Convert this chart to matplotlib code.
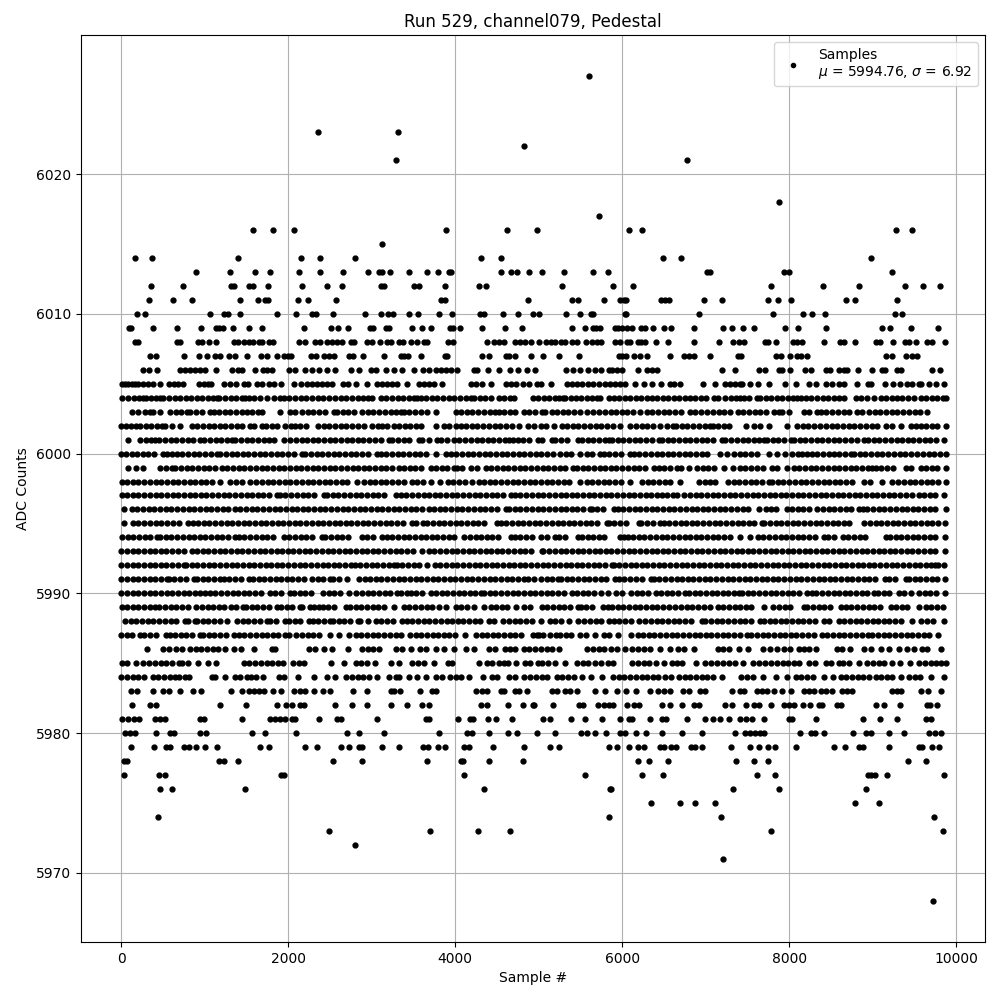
import matplotlib
matplotlib.use("Agg")
import matplotlib.pyplot as plt

title = "Run 529, channel079, Pedestal"
legend_label = "Samples\n$\\mu$ = 5994.76, $\\sigma$ = 6.92"

s6027 = [5607]
s6023 = [2353, 3313]
s6022 = [4825]
s6021 = [3289, 6771]
s6018 = [7881]
s6017 = [5725]
s6016 = [1573, 1813, 2065, 3889, 4621, 4975, 6075, 6231, 9279, 9471]
s6015 = [3121]
s6014 = [169, 373, 1393, 2149, 2377, 2797, 4309, 4549, 6483, 6699, 8979]
s6013 = [889, 1297, 1597, 1777, 2125, 2377, 2653, 2953, 3085, 3125, 3217, 3445, 3661, 3793, 3925, 3953, 4549, 4669, 4741, 4885, 5043, 5307, 5655, 5823, 7015, 7047, 7935, 7995, 9231]
s6012 = [361, 733, 1313, 1353, 1525, 1577, 1753, 2161, 2461, 2641, 3105, 3145, 3505, 3565, 3877, 4285, 4373, 5283, 5883, 6123, 7779, 8403, 8835, 9387, 9603, 9807]
s6011 = [337, 613, 841, 1417, 1633, 1725, 1757, 2113, 2233, 2569, 3825, 3877, 4873, 5403, 5475, 5775, 5975, 6015, 6047, 6459, 6515, 6555, 6975, 7191, 7743, 7863, 8019, 8679, 8787, 9291]
s6010 = [193, 289, 1057, 1233, 1273, 1417, 1865, 2089, 2281, 2337, 2533, 2917, 3109, 3193, 3253, 3445, 3553, 3805, 3961, 4297, 4345, 4573, 4753, 4935, 5007, 5331, 5499, 5623, 5647, 6027, 6047, 6915, 7803, 8163, 8271, 8427, 9267, 9351]
s6009 = [93, 117, 385, 661, 949, 1137, 1165, 1217, 1333, 1529, 1681, 2185, 2509, 2593, 2713, 2977, 3009, 3169, 3209, 3477, 3601, 3709, 3937, 3969, 4057, 4321, 4597, 4801, 5403, 5559, 5655, 5687, 5727, 5907, 5943, 5995, 6055, 6115, 6227, 6267, 6363, 6495, 6579, 6855, 7203, 7311, 7443, 7575, 7947, 8103, 8439, 9111, 9207, 9459, 9783]
s6008 = [165, 205, 665, 705, 913, 965, 1045, 1137, 1353, 1401, 1465, 1525, 1577, 1645, 1685, 1765, 1813, 2125, 2201, 2325, 2385, 2465, 2525, 2585, 2641, 2745, 2785, 2945, 3005, 3097, 3185, 3225, 3325, 3377, 3465, 3545, 3625, 3665, 3913, 3977, 4385, 4465, 4525, 4585, 4717, 4777, 4829, 4907, 5007, 5087, 5143, 5199, 5263, 5311, 5403, 5455, 5571, 5635, 5695, 5743, 5907, 5967, 6055, 6095, 6183, 6227, 6275, 6399, 6547, 6855, 7155, 7323, 7395, 7455, 7707, 7743, 7835, 8043, 8095, 8155, 8415, 8607, 8655, 8787, 9039, 9083, 9243, 9383, 9435, 9515, 9647, 9715, 9867]
s6007 = [345, 413, 745, 925, 1021, 1125, 1177, 1285, 1357, 1501, 1669, 1741, 1865, 1945, 1993, 2033, 2277, 2333, 2425, 2485, 2553, 2725, 2769, 2889, 3145, 3345, 3385, 3437, 3585, 3873, 3905, 4321, 4405, 4609, 4649, 4713, 4907, 5055, 5247, 5487, 5955, 5995, 6043, 6135, 6207, 6291, 6567, 6743, 6795, 6855, 7047, 7383, 7423, 7843, 7895, 8007, 8095, 8135, 8207, 9159, 9235, 9403, 9475, 9535]
s6006 = [265, 337, 425, 705, 765, 825, 885, 945, 1005, 1133, 1325, 1397, 1445, 1597, 1697, 1745, 1801, 2005, 2077, 2201, 2285, 2365, 2465, 2565, 2745, 2845, 2985, 3049, 3169, 3261, 3365, 3505, 3617, 3685, 3765, 3825, 3885, 3945, 4017, 4225, 4265, 4393, 4525, 4657, 4745, 4857, 4955, 5323, 5415, 5495, 5595, 5675, 5743, 5835, 5875, 5935, 5995, 6183, 6295, 6355, 6415, 7191, 7347, 7635, 7707, 7875, 7915, 8007, 8187, 8259, 8435, 8487, 8595, 8655, 8695, 8823, 8991, 9115, 9143, 9295, 9335, 9715, 9807]
s6005 = [5, 45, 85, 125, 165, 205, 265, 325, 385, 465, 565, 625, 680, 737, 925, 985, 1035, 1073, 1225, 1305, 1377, 1465, 1513, 1625, 1685, 1765, 1825, 1917, 2065, 2153, 2225, 2285, 2345, 2405, 2465, 2525, 2653, 2713, 2805, 2945, 3065, 3125, 3185, 3245, 3305, 3425, 3565, 3625, 3685, 3745, 3845, 4185, 4245, 4325, 4425, 4605, 4665, 4725, 4805, 4877, 4975, 5027, 5143, 5343, 5403, 5463, 5523, 5595, 5655, 5715, 5795, 5855, 5915, 5975, 6035, 6147, 6263, 6355, 6463, 6575, 6615, 6687, 6963, 7107, 7227, 7295, 7355, 7415, 7435, 7535, 7623, 7755, 7947, 8079, 8235, 8315, 8435, 8515, 8595, 8655, 8815, 8943, 8983, 9147, 9247, 9327, 9415, 9475, 9555, 9583, 9675, 9755, 9847]
s6004 = [5, 85, 150, 215, 265, 295, 360, 420, 465, 505, 570, 640, 705, 770, 840, 905, 970, 1035, 1100, 1145, 1165, 1245, 1310, 1375, 1440, 1485, 1525, 1590, 1655, 1745, 1825, 1905, 1945, 2010, 2080, 2150, 2215, 2285, 2350, 2420, 2490, 2555, 2625, 2690, 2760, 2830, 2900, 2960, 3005, 3105, 3170, 3240, 3310, 3375, 3445, 3500, 3545, 3585, 3650, 3720, 3785, 3855, 3920, 3990, 4055, 4125, 4185, 4225, 4290, 4360, 4430, 4525, 4585, 4650, 4705, 4925, 4995, 5060, 5125, 5190, 5240, 5295, 5315, 5380, 5445, 5510, 5575, 5640, 5700, 5735, 5835, 5900, 5965, 6030, 6095, 6160, 6225, 6290, 6355, 6420, 6485, 6550, 6615, 6680, 6745, 6810, 6875, 6940, 7005, 7095, 7143, 7235, 7300, 7365, 7415, 7455, 7520, 7615, 7655, 7720, 7785, 7850, 7915, 7980, 8045, 8095, 8135, 8200, 8255, 8335, 8400, 8465, 8530, 8595, 8660, 8795, 8855, 8925, 9015, 9095, 9160, 9225, 9290, 9355, 9420, 9495, 9575, 9640, 9705, 9770, 9835, 9875]
s6003 = [125, 205, 285, 345, 385, 465, 585, 650, 720, 785, 825, 890, 965, 1057, 1105, 1170, 1240, 1305, 1370, 1440, 1505, 1570, 1640, 1685, 1905, 2025, 2085, 2165, 2230, 2300, 2365, 2440, 2545, 2585, 2650, 2720, 2785, 2885, 2950, 3020, 3090, 3155, 3225, 3290, 3345, 3385, 3450, 3520, 3590, 3655, 3765, 4005, 4070, 4140, 4205, 4275, 4340, 4410, 4480, 4525, 4585, 4650, 4720, 4825, 4885, 4960, 5035, 5075, 5155, 5220, 5290, 5355, 5425, 5495, 5575, 5655, 5720, 5790, 5860, 5925, 5995, 6060, 6130, 6215, 6295, 6360, 6430, 6495, 6565, 6635, 6700, 6807, 6875, 6945, 7015, 7085, 7155, 7215, 7295, 7383, 7450, 7520, 7590, 7655, 7725, 7815, 7875, 7915, 7995, 8175, 8240, 8335, 8375, 8445, 8510, 8580, 8650, 8715, 8815, 8875, 8955, 9025, 9090, 9160, 9225, 9295, 9365, 9430, 9500, 9570, 9655]
s6002 = [0, 60, 120, 175, 225, 297, 360, 430, 485, 525, 605, 697, 845, 910, 980, 1045, 1110, 1180, 1245, 1315, 1380, 1450, 1545, 1585, 1685, 1737, 1800, 1865, 1965, 2030, 2085, 2145, 2217, 2353, 2425, 2490, 2560, 2625, 2695, 2760, 2830, 2905, 3005, 3070, 3120, 3185, 3265, 3325, 3395, 3460, 3530, 3585, 3765, 3865, 3930, 4005, 4065, 4130, 4200, 4265, 4335, 4400, 4470, 4535, 4605, 4675, 4765, 4865, 4940, 5025, 5090, 5183, 5275, 5340, 5410, 5475, 5545, 5610, 5680, 5750, 5815, 5885, 5975, 6095, 6165, 6230, 6295, 6367, 6455, 6535, 6607, 6643, 6710, 6780, 6850, 6915, 6985, 7047, 7087, 7150, 7220, 7283, 7487, 7575, 7647, 7763, 7975, 8095, 8160, 8230, 8300, 8370, 8440, 8515, 8575, 8640, 8710, 8780, 8850, 8915, 8985, 9050, 9155, 9235, 9343, 9455, 9515, 9575, 9640, 9710, 9775, 9875]
s6001 = [85, 225, 290, 350, 405, 457, 525, 590, 660, 725, 795, 860, 945, 993, 1060, 1130, 1195, 1265, 1325, 1365, 1435, 1500, 1570, 1635, 1705, 1770, 1825, 1945, 2025, 2090, 2160, 2225, 2295, 2360, 2430, 2495, 2565, 2630, 2700, 2765, 2835, 2900, 2970, 3040, 3105, 3205, 3245, 3310, 3380, 3445, 3565, 3605, 3685, 3785, 3825, 3905, 3985, 4050, 4120, 4185, 4255, 4320, 4390, 4455, 4525, 4590, 4645, 4685, 4745, 4815, 4880, 4985, 5035, 5155, 5195, 5265, 5335, 5475, 5515, 5585, 5655, 5720, 5790, 5835, 5875, 5945, 6010, 6080, 6150, 6215, 6285, 6350, 6435, 6475, 6545, 6610, 6680, 6745, 6815, 6880, 6950, 7020, 7085, 7195, 7235, 7305, 7370, 7440, 7505, 7575, 7640, 7695, 7735, 7805, 7870, 7940, 8015, 8055, 8125, 8190, 8260, 8330, 8395, 8465, 8530, 8600, 8670, 8735, 8805, 8895, 8943, 9010, 9080, 9145, 9215, 9285, 9350, 9420, 9485, 9555, 9620, 9690, 9755, 9855]
s6000 = [0, 60, 125, 190, 265, 325, 395, 505, 545, 605, 665, 730, 800, 865, 935, 1000, 1070, 1145, 1185, 1250, 1320, 1385, 1455, 1520, 1590, 1660, 1725, 1795, 1860, 1930, 1995, 2065, 2165, 2205, 2270, 2340, 2405, 2475, 2545, 2610, 2680, 2745, 2815, 2880, 2950, 3065, 3105, 3175, 3240, 3310, 3375, 3445, 3515, 3580, 3650, 3765, 3885, 3945, 4010, 4080, 4150, 4215, 4285, 4350, 4420, 4490, 4555, 4625, 4690, 4760, 4825, 4895, 4965, 5030, 5100, 5175, 5255, 5320, 5390, 5495, 5575, 5640, 5735, 5775, 5845, 5910, 5980, 6095, 6135, 6205, 6270, 6340, 6410, 6475, 6545, 6610, 6680, 6750, 6815, 6885, 6950, 7015, 7167, 7255, 7335, 7405, 7470, 7540, 7615, 7755, 7855, 7947, 8035, 8100, 8155, 8207, 8275, 8335, 8400, 8475, 8535, 8600, 8670, 8735, 8775, 8845, 8910, 8980, 9050, 9115, 9185, 9250, 9320, 9385, 9455, 9535, 9600, 9670, 9735, 9805, 9875]
s5999 = [85, 175, 265, 465, 540, 605, 645, 715, 785, 850, 920, 985, 1055, 1125, 1205, 1270, 1340, 1410, 1475, 1545, 1610, 1680, 1750, 1815, 1885, 1950, 2020, 2090, 2155, 2225, 2290, 2360, 2430, 2495, 2565, 2630, 2700, 2770, 2835, 2905, 2970, 3040, 3110, 3175, 3245, 3325, 3385, 3455, 3520, 3590, 3705, 3765, 3835, 3900, 3985, 4025, 4085, 4185, 4265, 4365, 4430, 4500, 4570, 4635, 4705, 4770, 4840, 4905, 4975, 5045, 5110, 5180, 5250, 5315, 5415, 5455, 5525, 5590, 5660, 5730, 5795, 5865, 5930, 6000, 6070, 6135, 6205, 6270, 6375, 6435, 6505, 6570, 6655, 6703, 6795, 6895, 6965, 7030, 7100, 7215, 7323, 7415, 7475, 7545, 7610, 7680, 7795, 7855, 7967, 8055, 8120, 8190, 8260, 8325, 8395, 8460, 8530, 8600, 8665, 8735, 8800, 8870, 8940, 8995, 9035, 9095, 9175, 9245, 9395, 9455, 9575, 9640, 9710, 9775, 9875]
s5998 = [5, 70, 140, 205, 275, 340, 410, 480, 545, 615, 680, 750, 820, 885, 955, 1020, 1090, 1185, 1305, 1375, 1440, 1545, 1617, 1685, 1755, 1820, 1890, 1960, 2025, 2095, 2160, 2230, 2300, 2365, 2435, 2500, 2570, 2640, 2705, 2825, 2905, 2975, 3040, 3110, 3175, 3245, 3315, 3380, 3485, 3545, 3615, 3705, 3817, 3913, 3975, 4045, 4117, 4205, 4285, 4345, 4415, 4480, 4550, 4620, 4685, 4755, 4820, 4890, 4960, 5025, 5095, 5160, 5230, 5300, 5365, 5495, 5575, 5640, 5710, 5780, 5845, 5915, 5980, 6095, 6235, 6305, 6370, 6440, 6510, 6575, 6695, 6915, 6985, 7050, 7115, 7267, 7335, 7400, 7470, 7540, 7605, 7675, 7755, 7795, 7865, 7930, 8000, 8070, 8135, 8205, 8270, 8340, 8410, 8475, 8545, 8610, 8680, 8750, 8895, 8967, 9107, 9235, 9305, 9370, 9440, 9505, 9575, 9645, 9710, 9780, 9875]
s5997 = [5, 70, 140, 205, 275, 340, 410, 480, 545, 615, 680, 750, 820, 885, 955, 1020, 1090, 1160, 1225, 1295, 1360, 1430, 1500, 1565, 1635, 1700, 1770, 1865, 1897, 1965, 2035, 2100, 2170, 2240, 2305, 2425, 2465, 2535, 2600, 2670, 2740, 2805, 2875, 2940, 3010, 3080, 3145, 3285, 3345, 3415, 3480, 3550, 3620, 3685, 3755, 3820, 3890, 3960, 4025, 4095, 4160, 4230, 4300, 4365, 4435, 4500, 4570, 4665, 4713, 4780, 4850, 4920, 4985, 5055, 5120, 5190, 5260, 5325, 5395, 5460, 5530, 5600, 5665, 5735, 5800, 5870, 5940, 6005, 6075, 6140, 6210, 6280, 6345, 6415, 6480, 6535, 6607, 6655, 6743, 6810, 6880, 6945, 7015, 7085, 7150, 7220, 7285, 7355, 7425, 7490, 7560, 7625, 7695, 7765, 7830, 7900, 7965, 8035, 8105, 8170, 8240, 8305, 8375, 8445, 8510, 8580, 8645, 8715, 8785, 8850, 8920, 8985, 9055, 9125, 9190, 9260, 9325, 9395, 9465, 9555, 9615, 9685, 9750, 9855]
s5996 = [33, 125, 193, 260, 330, 395, 465, 535, 600, 670, 735, 805, 875, 940, 1010, 1075, 1145, 1215, 1280, 1365, 1425, 1495, 1560, 1630, 1700, 1765, 1835, 1900, 1970, 2040, 2105, 2175, 2240, 2310, 2380, 2445, 2515, 2580, 2650, 2720, 2785, 2855, 2920, 2990, 3060, 3125, 3195, 3260, 3330, 3400, 3465, 3535, 3600, 3685, 3745, 3815, 3880, 3950, 4020, 4085, 4155, 4220, 4290, 4360, 4425, 4495, 4605, 4645, 4715, 4780, 4850, 4920, 4985, 5055, 5120, 5190, 5260, 5325, 5395, 5460, 5530, 5615, 5635, 5700, 5770, 5895, 5943, 6010, 6080, 6150, 6215, 6285, 6350, 6420, 6490, 6555, 6625, 6690, 6760, 6830, 6895, 6965, 7030, 7100, 7170, 7235, 7305, 7370, 7440, 7510, 7635, 7723, 7775, 7845, 7975, 8035, 8105, 8170, 8240, 8335, 8407, 8475, 8540, 8610, 8680, 8745, 8835, 8887, 8935, 9005, 9070, 9140, 9205, 9275, 9345, 9410, 9480, 9545, 9615, 9685, 9750, 9875]
s5995 = [33, 137, 205, 275, 345, 410, 480, 545, 615, 685, 793, 853, 920, 990, 1055, 1125, 1195, 1260, 1330, 1395, 1465, 1535, 1600, 1670, 1735, 1805, 1875, 1940, 2010, 2075, 2145, 2215, 2280, 2350, 2415, 2485, 2555, 2620, 2690, 2755, 2825, 2895, 2960, 3030, 3095, 3165, 3235, 3300, 3370, 3485, 3525, 3617, 3665, 3730, 3800, 3870, 3935, 4005, 4070, 4140, 4210, 4275, 4345, 4505, 4545, 4610, 4680, 4745, 4815, 4885, 4950, 5020, 5085, 5155, 5225, 5290, 5360, 5425, 5495, 5565, 5630, 5700, 5815, 5835, 5905, 5970, 6040, 6195, 6227, 6295, 6365, 6447, 6495, 6560, 6630, 6700, 6765, 6835, 6900, 6970, 7040, 7105, 7175, 7240, 7310, 7380, 7445, 7515, 7580, 7675, 7703, 7770, 7840, 7905, 7975, 8040, 8110, 8180, 8245, 8315, 8380, 8450, 8520, 8585, 8655, 8720, 8895, 8967, 9035, 9100, 9170, 9240, 9305, 9375, 9440, 9510, 9580, 9645, 9715, 9780, 9870]
s5994 = [5, 75, 140, 210, 280, 345, 425, 465, 530, 600, 665, 735, 805, 870, 940, 1005, 1075, 1145, 1210, 1280, 1365, 1405, 1473, 1540, 1610, 1680, 1745, 1815, 1945, 2013, 2080, 2150, 2215, 2285, 2405, 2445, 2510, 2580, 2645, 2715, 2885, 2945, 3015, 3125, 3177, 3245, 3310, 3380, 3445, 3515, 3585, 3650, 3720, 3785, 3855, 3925, 3990, 4105, 4177, 4245, 4310, 4380, 4445, 4515, 4665, 4713, 4780, 4850, 4915, 5025, 5095, 5195, 5247, 5315, 5475, 5515, 5585, 5650, 5720, 5785, 5975, 6015, 6063, 6130, 6200, 6265, 6335, 6405, 6470, 6540, 6605, 6675, 6745, 6810, 6880, 6945, 7015, 7085, 7150, 7220, 7285, 7415, 7527, 7623, 7690, 7760, 7825, 7895, 7965, 8030, 8100, 8165, 8235, 8305, 8415, 8463, 8530, 8647, 8703, 8775, 8845, 8910, 9155, 9207, 9275, 9340, 9410, 9480, 9545, 9615, 9680, 9750, 9870]
s5993 = [0, 65, 135, 200, 270, 340, 405, 475, 540, 610, 680, 745, 845, 905, 975, 1040, 1110, 1180, 1245, 1315, 1380, 1450, 1520, 1585, 1655, 1720, 1790, 1860, 1925, 1995, 2060, 2130, 2200, 2265, 2335, 2400, 2470, 2540, 2605, 2675, 2740, 2810, 2880, 2945, 3015, 3080, 3150, 3220, 3285, 3355, 3420, 3490, 3605, 3685, 3750, 3820, 3885, 3955, 4025, 4090, 4160, 4225, 4295, 4365, 4430, 4500, 4565, 4635, 4705, 4770, 4840, 4905, 5035, 5055, 5125, 5190, 5260, 5330, 5395, 5465, 5530, 5600, 5670, 5735, 5805, 5870, 5940, 6010, 6075, 6145, 6210, 6280, 6350, 6415, 6485, 6550, 6620, 6690, 6755, 6825, 6890, 6960, 7030, 7095, 7165, 7230, 7300, 7370, 7435, 7505, 7570, 7640, 7710, 7775, 7845, 7910, 7980, 8050, 8115, 8185, 8250, 8320, 8390, 8455, 8525, 8590, 8660, 8730, 8795, 8865, 8930, 9000, 9070, 9135, 9205, 9270, 9340, 9410, 9475, 9545, 9610, 9680, 9750, 9870]
s5992 = [0, 65, 135, 200, 270, 340, 405, 475, 540, 610, 680, 745, 777, 845, 910, 980, 1050, 1115, 1185, 1250, 1320, 1390, 1455, 1525, 1590, 1660, 1730, 1795, 1865, 1930, 2000, 2070, 2135, 2205, 2270, 2340, 2410, 2475, 2545, 2610, 2680, 2745, 2793, 2860, 2930, 3000, 3065, 3135, 3200, 3265, 3297, 3365, 3430, 3500, 3570, 3665, 3753, 3820, 3890, 3960, 4025, 4095, 4160, 4230, 4300, 4365, 4435, 4500, 4570, 4640, 4705, 4775, 4840, 4910, 4980, 5045, 5115, 5180, 5250, 5320, 5385, 5455, 5520, 5590, 5660, 5725, 5795, 5875, 5895, 5960, 6030, 6100, 6165, 6235, 6300, 6370, 6440, 6505, 6575, 6640, 6710, 6780, 6845, 6915, 6980, 7050, 7120, 7185, 7255, 7320, 7390, 7460, 7525, 7595, 7660, 7730, 7800, 7865, 7935, 8000, 8070, 8140, 8205, 8275, 8340, 8410, 8480, 8545, 8615, 8680, 8750, 8820, 8885, 8955, 9020, 9090, 9160, 9225, 9295, 9360, 9430, 9500, 9565, 9635, 9700, 9743, 9783, 9855]
s5991 = [0, 65, 135, 200, 270, 340, 405, 475, 545, 565, 635, 700, 770, 865, 905, 975, 1040, 1110, 1177, 1225, 1290, 1360, 1430, 1525, 1577, 1645, 1710, 1780, 1850, 1915, 1985, 2050, 2120, 2190, 2285, 2353, 2420, 2497, 2537, 2605, 2697, 2845, 2915, 2980, 3050, 3115, 3185, 3255, 3320, 3390, 3455, 3525, 3595, 3660, 3730, 3795, 3865, 3935, 4000, 4070, 4135, 4205, 4275, 4340, 4410, 4475, 4545, 4615, 4680, 4750, 4825, 4873, 4940, 5025, 5095, 5160, 5235, 5267, 5335, 5400, 5470, 5540, 5605, 5675, 5740, 5810, 5915, 5955, 6025, 6090, 6160, 6230, 6343, 6375, 6445, 6510, 6580, 6650, 6715, 6785, 6850, 6920, 6990, 7055, 7125, 7190, 7260, 7330, 7395, 7465, 7530, 7600, 7670, 7735, 7805, 7870, 7940, 8010, 8075, 8145, 8210, 8280, 8350, 8415, 8485, 8550, 8620, 8690, 8755, 8825, 8890, 8960, 9030, 9143, 9195, 9265, 9395, 9435, 9505, 9570, 9640, 9710, 9775, 9870]
s5990 = [0, 65, 135, 200, 270, 340, 405, 475, 545, 610, 680, 745, 815, 885, 937, 997, 1065, 1125, 1193, 1265, 1335, 1400, 1470, 1535, 1605, 1673, 1777, 1845, 1910, 2025, 2065, 2135, 2205, 2273, 2413, 2485, 2550, 2620, 2725, 2813, 2880, 2950, 3015, 3085, 3155, 3220, 3305, 3345, 3425, 3465, 3535, 3600, 3713, 3765, 3835, 3900, 3970, 4040, 4105, 4175, 4240, 4305, 4345, 4415, 4480, 4550, 4620, 4685, 4755, 4820, 4890, 4960, 5025, 5095, 5160, 5230, 5300, 5395, 5455, 5525, 5590, 5660, 5743, 5823, 5927, 5995, 6103, 6175, 6240, 6310, 6407, 6463, 6530, 6600, 6665, 6755, 6795, 6865, 6930, 7000, 7070, 7135, 7205, 7270, 7340, 7395, 7435, 7505, 7570, 7640, 7710, 7775, 7845, 7910, 7980, 8050, 8115, 8215, 8275, 8323, 8390, 8460, 8530, 8595, 8665, 8730, 8800, 8870, 8935, 9015, 9063, 9130, 9200, 9315, 9375, 9463, 9555, 9625, 9690, 9760, 9870]
s5989 = [5, 70, 140, 205, 275, 340, 405, 457, 525, 590, 660, 725, 795, 897, 965, 1035, 1100, 1170, 1235, 1313, 1377, 1457, 1497, 1565, 1630, 1700, 1765, 1865, 1913, 1980, 2050, 2137, 2165, 2257, 2305, 2365, 2413, 2480, 2550, 2685, 2737, 2805, 2870, 2940, 3010, 3075, 3145, 3265, 3385, 3450, 3520, 3590, 3655, 3725, 3805, 3885, 4005, 4070, 4140, 4225, 4345, 4425, 4485, 4555, 4625, 4725, 4825, 4897, 5035, 5100, 5170, 5240, 5305, 5375, 5475, 5503, 5570, 5640, 5767, 5823, 5875, 5945, 6010, 6080, 6150, 6215, 6285, 6350, 6420, 6487, 6555, 6635, 6705, 6770, 6840, 6910, 6975, 7045, 7143, 7207, 7275, 7345, 7410, 7480, 7545, 7695, 7807, 7875, 7945, 8010, 8175, 8215, 8285, 8350, 8420, 8490, 8615, 8675, 8745, 8810, 8880, 8950, 9015, 9085, 9215, 9275, 9345, 9410, 9555, 9635, 9700, 9770, 9835]
s5988 = [45, 115, 180, 250, 320, 385, 455, 520, 590, 660, 765, 793, 885, 905, 975, 1040, 1110, 1180, 1265, 1385, 1455, 1520, 1590, 1655, 1745, 1785, 1855, 1965, 2005, 2075, 2140, 2245, 2293, 2360, 2430, 2505, 2537, 2605, 2670, 2740, 2833, 2857, 2953, 3045, 3115, 3180, 3250, 3365, 3417, 3485, 3555, 3620, 3690, 3755, 3825, 3895, 3960, 4030, 4095, 4165, 4235, 4300, 4405, 4465, 4577, 4645, 4710, 4780, 4850, 4915, 5025, 5135, 5195, 5265, 5367, 5475, 5545, 5610, 5680, 5745, 5835, 5895, 5965, 6030, 6100, 6195, 6275, 6345, 6410, 6480, 6550, 6615, 6685, 6750, 6820, 6955, 6995, 7065, 7130, 7200, 7265, 7335, 7405, 7470, 7540, 7655, 7695, 7765, 7830, 7900, 7965, 8035, 8105, 8170, 8240, 8305, 8415, 8475, 8595, 8655, 8727, 8795, 8860, 8930, 9000, 9065, 9135, 9200, 9270, 9340, 9475, 9583, 9655, 9725, 9855]
s5987 = [0, 65, 130, 225, 273, 340, 410, 537, 577, 645, 715, 780, 850, 937, 977, 1045, 1115, 1180, 1250, 1353, 1405, 1475, 1540, 1610, 1680, 1745, 1815, 1880, 1965, 2005, 2097, 2165, 2235, 2300, 2370, 2497, 2605, 2725, 2805, 2875, 2945, 3010, 3080, 3145, 3215, 3285, 3350, 3457, 3525, 3590, 3660, 3730, 3795, 3865, 3930, 4000, 4113, 4245, 4315, 4380, 4450, 4515, 4585, 4655, 4720, 4790, 4925, 5005, 4975, 5045, 5135, 5207, 5255, 5327, 5391, 5495, 5560, 5675, 5775, 5845, 5943, 6103, 6183, 6250, 6320, 6385, 6455, 6525, 6590, 6660, 6725, 6795, 6865, 6930, 7000, 7065, 7135, 7205, 7270, 7340, 7405, 7495, 7543, 7610, 7680, 7745, 7815, 7885, 7950, 8020, 8085, 8155, 8225, 8290, 8395, 8455, 8525, 8590, 8660, 8730, 8795, 8865, 8943, 8995, 9065, 9130, 9200, 9270, 9335, 9405, 9470, 9540, 9610, 9675, 9783]
s5986 = [305, 505, 570, 657, 721, 825, 895, 960, 1030, 1095, 1153, 1241, 1353, 1433, 1585, 1805, 1845, 2245, 2325, 2425, 2525, 2717, 2885, 2955, 3020, 3085, 3285, 3365, 3465, 3577, 3645, 3765, 3865, 3985, 4125, 4225, 4405, 4475, 4593, 4653, 4720, 4825, 4885, 4955, 5025, 5095, 5160, 5247, 5575, 5647, 5715, 5785, 5865, 5935, 6035, 6115, 6185, 6255, 6335, 6447, 6575, 6663, 6743, 6855, 7143, 7210, 7280, 7395, 7503, 7687, 7767, 7847, 7935, 8007, 8115, 8175, 8235, 8323, 8575, 8635, 8727, 8895, 8975, 9095, 9195, 9315, 9415, 9495, 9595, 9655, 9823]
s5985 = [5, 65, 177, 265, 335, 405, 470, 540, 605, 685, 725, 795, 913, 1033, 1137, 1465, 1535, 1600, 1670, 1740, 1805, 1875, 1940, 2057, 2125, 2193, 2509, 2665, 2805, 2875, 2945, 3037, 3225, 3325, 3485, 3555, 3620, 3745, 3913, 3965, 4285, 4377, 4445, 4525, 4585, 4633, 4721, 4833, 4900, 4993, 5040, 5115, 5195, 5315, 5463, 5530, 5595, 5675, 5745, 5823, 5883, 6115, 6185, 6255, 6315, 6403, 6495, 6595, 6655, 6715, 6883, 6995, 7065, 7135, 7207, 7275, 7345, 7447, 7567, 7635, 7715, 7785, 7850, 7920, 7990, 8055, 8115, 8235, 8303, 8435, 8505, 8595, 8647, 8715, 8835, 8935, 9005, 9070, 9140, 9235, 9327, 9447, 9555, 9625, 9695, 9755, 9815, 9875]
s5984 = [0, 65, 135, 200, 270, 385, 445, 515, 580, 645, 693, 760, 805, 1085, 1125, 1237, 1365, 1425, 1505, 1553, 1613, 1693, 1885, 1945, 2121, 2305, 2465, 2557, 2685, 2765, 2833, 2900, 2970, 3065, 3205, 3285, 3325, 3445, 3537, 3645, 3765, 3845, 3937, 4005, 4070, 4165, 4337, 4445, 4505, 4645, 4715, 4825, 4897, 4965, 5035, 5103, 5215, 5275, 5355, 5425, 5515, 5627, 5755, 5883, 5955, 6025, 6090, 6160, 6230, 6295, 6365, 6430, 6515, 6583, 6675, 6745, 6810, 6880, 6950, 7015, 7085, 7195, 7423, 7490, 7560, 7687, 7843, 7975, 8075, 8145, 8210, 8280, 8415, 8527, 8615, 8685, 8750, 8820, 8885, 8955, 9035, 9095, 9165, 9235, 9335, 9435, 9505, 9570, 9695, 9847]
s5983 = [113, 185, 385, 495, 565, 697, 857, 953, 1313, 1445, 1525, 1585, 1645, 1705, 1813, 1913, 2065, 2135, 2205, 2305, 2413, 2505, 2773, 2941, 3225, 3265, 3337, 3577, 3725, 3765, 4245, 4315, 4385, 4545, 4585, 4713, 4765, 4861, 5155, 5223, 5315, 5375, 5455, 5679, 5787, 5935, 6043, 6163, 6335, 6423, 6503, 6575, 6727, 6795, 6935, 6995, 7311, 7415, 7463, 7615, 7675, 7735, 7811, 7915, 8023, 8175, 8235, 8295, 8375, 8445, 8515, 8635, 8695, 8755, 9235, 9285, 9335, 9583, 9663, 9823]
s5982 = [133, 345, 417, 1177, 1489, 1865, 1977, 2045, 2137, 2193, 2557, 2765, 2945, 3229, 3421, 3601, 3685, 4309, 4385, 4637, 4805, 4945, 4935, 5167, 5483, 5535, 5707, 5775, 5835, 5887, 6055, 6143, 6195, 6471, 6575, 6715, 6855, 6915, 7235, 7315, 7479, 7575, 7635, 7779, 7935, 7995, 8055, 8163, 8247, 8355, 8395, 8575, 8615, 9043, 9135, 9327, 9647, 9687, 9775]
s5981 = [13, 85, 153, 217, 405, 465, 525, 945, 985, 1441, 1785, 1845, 1905, 1965, 2045, 2085, 2369, 2585, 2633, 3061, 3645, 3685, 4033, 4177, 4217, 4393, 4493, 4673, 5055, 5135, 5391, 5559, 5751, 5975, 6075, 6115, 6327, 6475, 6523, 6779, 6987, 7087, 7167, 7283, 7415, 7487, 7555, 7695, 7995, 8035, 8319, 8883, 9087, 9295, 9635, 9695]
s5980 = [45, 105, 165, 421, 577, 625, 937, 1013, 1561, 1717, 2093, 2701, 2845, 3145, 3805, 4141, 4205, 4409, 4637, 4741, 4981, 5199, 5511, 5583, 5679, 5799, 5975, 6035, 6159, 6279, 6471, 6715, 6951, 7347, 7467, 7535, 7595, 7655, 7695, 8127, 8255, 8303, 8419, 8767, 8915, 8975, 9195, 9375, 9675, 9743, 9823]
s5979 = [121, 397, 537, 577, 745, 805, 889, 997, 1141, 1657, 1765, 2197, 2341, 2629, 2725, 2845, 2885, 3121, 3325, 3617, 3673, 3793, 3877, 4105, 4165, 4453, 4825, 5139, 5247, 5835, 5935, 6079, 6183, 6255, 6455, 6495, 6587, 6643, 6827, 6875, 6951, 7299, 7527, 7635, 7743, 7823, 8079, 8535, 8667, 8835, 8883, 9195, 9555, 9595, 9711, 9799]
s5978 = [33, 73, 1165, 1225, 1393, 2533, 2881, 3661, 4065, 4097, 4405, 4813, 6183, 6315, 6543, 7359, 7575, 7743, 9423, 9639]
s5977 = [37, 457, 529, 1913, 1945, 4105, 5559, 6231, 6483, 7611, 7827, 8943, 8983, 9023, 9171, 9855]
s5976 = [469, 601, 1477, 4345, 5847, 5863, 7323, 7875, 8919]
s5975 = [6339, 6687, 6867, 7107, 8787, 9075]
s5974 = [445, 5835, 7179, 9735]
s5973 = [2485, 3697, 4273, 4657, 7779, 9843]
s5972 = [2797]
s5971 = [7203]
s5968 = [9723]

rows = {6027: s6027, 6023: s6023, 6022: s6022, 6021: s6021, 6018: s6018, 6017: s6017,
        6016: s6016, 6015: s6015, 6014: s6014, 6013: s6013, 6012: s6012, 6011: s6011,
        6010: s6010, 6009: s6009, 6008: s6008, 6007: s6007, 6006: s6006, 6005: s6005,
        6004: s6004, 6003: s6003, 6002: s6002, 6001: s6001, 6000: s6000, 5999: s5999,
        5998: s5998, 5997: s5997, 5996: s5996, 5995: s5995, 5994: s5994, 5993: s5993,
        5992: s5992, 5991: s5991, 5990: s5990, 5989: s5989, 5988: s5988, 5987: s5987,
        5986: s5986, 5985: s5985, 5984: s5984, 5983: s5983, 5982: s5982, 5981: s5981,
        5980: s5980, 5979: s5979, 5978: s5978, 5977: s5977, 5976: s5976, 5975: s5975,
        5974: s5974, 5973: s5973, 5972: s5972, 5971: s5971, 5968: s5968}

xs, ys = [], []
for level, samples in rows.items():
    xs.extend(samples)
    ys.extend([level] * len(samples))

fig, ax = plt.subplots(figsize=(10, 10), dpi=100)
fig.subplots_adjust(left=0.0805, right=0.985, top=0.965, bottom=0.058)
ax.plot(xs, ys, "k.", markersize=7, label=legend_label)
ax.set_xlim(-489, 10344)
ax.set_ylim(5965.05, 6029.95)
ax.set_title(title)
ax.set_xlabel("Sample #")
ax.set_ylabel("ADC Counts")
ax.grid(True)
ax.legend(loc="upper right", markerscale=6 / 7)
fig.savefig("out.png", dpi=100)
